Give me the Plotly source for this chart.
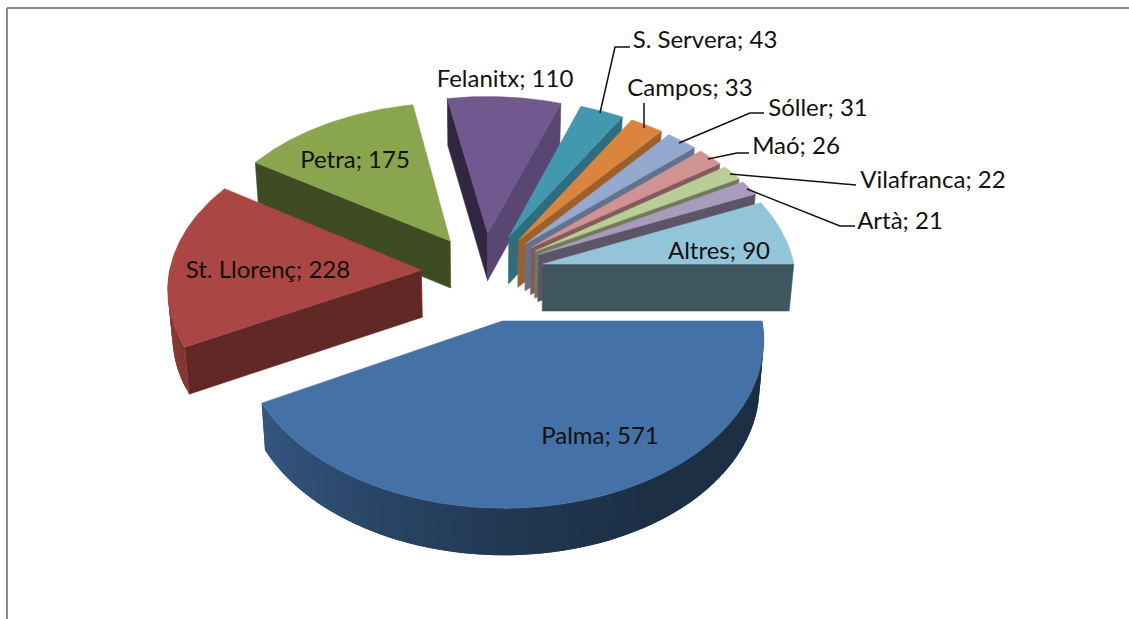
import numpy as np
import plotly.graph_objects as go

# --- data ---
categories = ["Palma", "St. Llorenç", "Petra", "Felanitx", "S. Servera", "Campos",
              "Sóller", "Maó", "Vilafranca", "Artà", "Altres"]
values = [571, 228, 175, 110, 43, 33, 31, 26, 22, 21, 90]

# --- styling ---
colors = ["#4471A6", "#AA4643", "#89A54E", "#71588F", "#4198AF", "#DB843D",
          "#93A9CF", "#D19392", "#B9CD96", "#A99BBD", "#92C5D9"]
explode = [0.31, 0.245, 0.24, 0.25, 0.25, 0.25, 0.25, 0.25, 0.25, 0.25, 0.245]
start_shade = [0.5, 0.58, 0.46, 0.45, 0.6, 0.6, 0.6, 0.6, 0.6, 0.6, 0.6]
end_shade = [0.5, 0.5, 0.5, 0.8, 0.72, 0.72, 0.68, 0.62, 0.6, 0.55, 0.44]
draw_order = [2, 3, 4, 5, 6, 7, 8, 9, 10, 1, 0]
label_pos = [(600, 438), (268, 272), (355, 162), (505, 81), (705, 42), (690, 90),
             (818, 110), (796, 148), (933, 182), (900, 223), (719, 253)]
leaders = {
    4: [(600, 113), (615, 47), (630, 47)],
    5: [(644, 128), (644, 103)],
    6: [(679, 143), (750, 113), (764, 113)],
    7: [(708, 159), (737, 153), (749, 153)],
    8: [(730, 174), (856, 185)],
    9: [(747, 189), (840, 226), (855, 226)],
}

CX, CY, RX, RY, PERSP, DEPTH, SHRINK = 483, 272, 252, 158, 0.1, 47, 0.985


def project(X, Y, bottom=False):
    s = 1 / (1 - PERSP * Y)
    if bottom:
        return CX + RX * X * s * SHRINK, CY + RY * Y * s + DEPTH
    return CX + RX * X * s, CY + RY * Y * s


def shade(color, f):
    r, g, b = (int(color[i:i + 2], 16) for i in (1, 3, 5))
    return f"rgb({int(r * f)},{int(g * f)},{int(b * f)})"


def poly(xs, ys, color, width=0.6):
    fig.add_trace(go.Scatter(x=list(xs), y=list(ys), mode="lines", fill="toself",
                             fillcolor=color, line=dict(color=color, width=width),
                             hoverinfo="skip", showlegend=False))


fig = go.Figure()
total = sum(values)
angles = np.cumsum([90] + [v / total * 360 for v in values])

for i in draw_order:
    a0, a1 = angles[i], angles[i + 1]
    mid = np.radians((a0 + a1) / 2)
    ax, ay = explode[i] * np.sin(mid), -explode[i] * np.cos(mid)

    def edge(theta):
        t = np.radians(theta)
        return ax + np.sin(t), ay - np.cos(t)

    def wall(theta, f):
        ex, ey = edge(theta)
        p = [project(ax, ay), project(ex, ey), project(ex, ey, True), project(ax, ay, True)]
        poly([q[0] for q in p] + [p[0][0]], [q[1] for q in p] + [p[0][1]], shade(colors[i], f))

    if np.sin(np.radians(a0)) < 0:
        wall(a0, start_shade[i])
    if np.sin(np.radians(a1)) > 0:
        wall(a1, end_shade[i])

    n = max(3, int((a1 - a0) / 2))
    th = np.linspace(a0, a1, n + 1)
    step = th[1] - th[0]
    for t0 in th[:-1]:
        tm = (t0 + step / 2) % 360
        if 90 <= tm <= 270:
            # each band runs on under the next one, so no seams show between bands
            ts = np.linspace(t0, min(t0 + 2 * step, a1), 6)
            e = [edge(t) for t in ts]
            top = [project(*q) for q in e]
            low = [project(*q, True) for q in e][::-1]
            p = top + low + top[:1]
            f = np.interp(tm, [90, 150, 180, 220, 250], [0.42, 0.42, 0.5, 0.68, 0.8])
            poly([q[0] for q in p], [q[1] for q in p], shade(colors[i], f), width=0)

    arc = [project(*edge(t)) for t in np.linspace(a0, a1, 80)]
    apex = project(ax, ay)
    poly([apex[0]] + [q[0] for q in arc] + [apex[0]],
         [apex[1]] + [q[1] for q in arc] + [apex[1]], colors[i])

for pts in leaders.values():
    fig.add_trace(go.Scatter(x=[p[0] for p in pts], y=[p[1] for p in pts], mode="lines",
                             line=dict(color="#111111", width=1.5),
                             hoverinfo="skip", showlegend=False))

fig.add_trace(go.Scatter(x=[p[0] for p in label_pos], y=[p[1] for p in label_pos], mode="text",
                         text=[f"{c}; {v}" for c, v in zip(categories, values)],
                         textposition="middle center",
                         textfont=dict(family="Lato", size=24, color="#111111"),
                         hoverinfo="skip", showlegend=False))

# chart frame
fig.add_shape(type="line", x0=7, x1=1129, y0=8, y1=8, line=dict(color="#8a8a8a", width=2))
fig.add_shape(type="line", x0=7, x1=7, y0=8, y1=619, line=dict(color="#8a8a8a", width=2))

fig.update_xaxes(range=[0, 1129], visible=False, fixedrange=True)
fig.update_yaxes(range=[619, 0], visible=False, fixedrange=True)
fig.update_layout(width=1129, height=619, margin=dict(l=0, r=0, t=0, b=0),
                  paper_bgcolor="white", plot_bgcolor="white", showlegend=False)
fig.write_html("out.html", config={"displayModeBar": False},
               post_script="document.body.style.margin='0';document.body.style.overflow='hidden';")
